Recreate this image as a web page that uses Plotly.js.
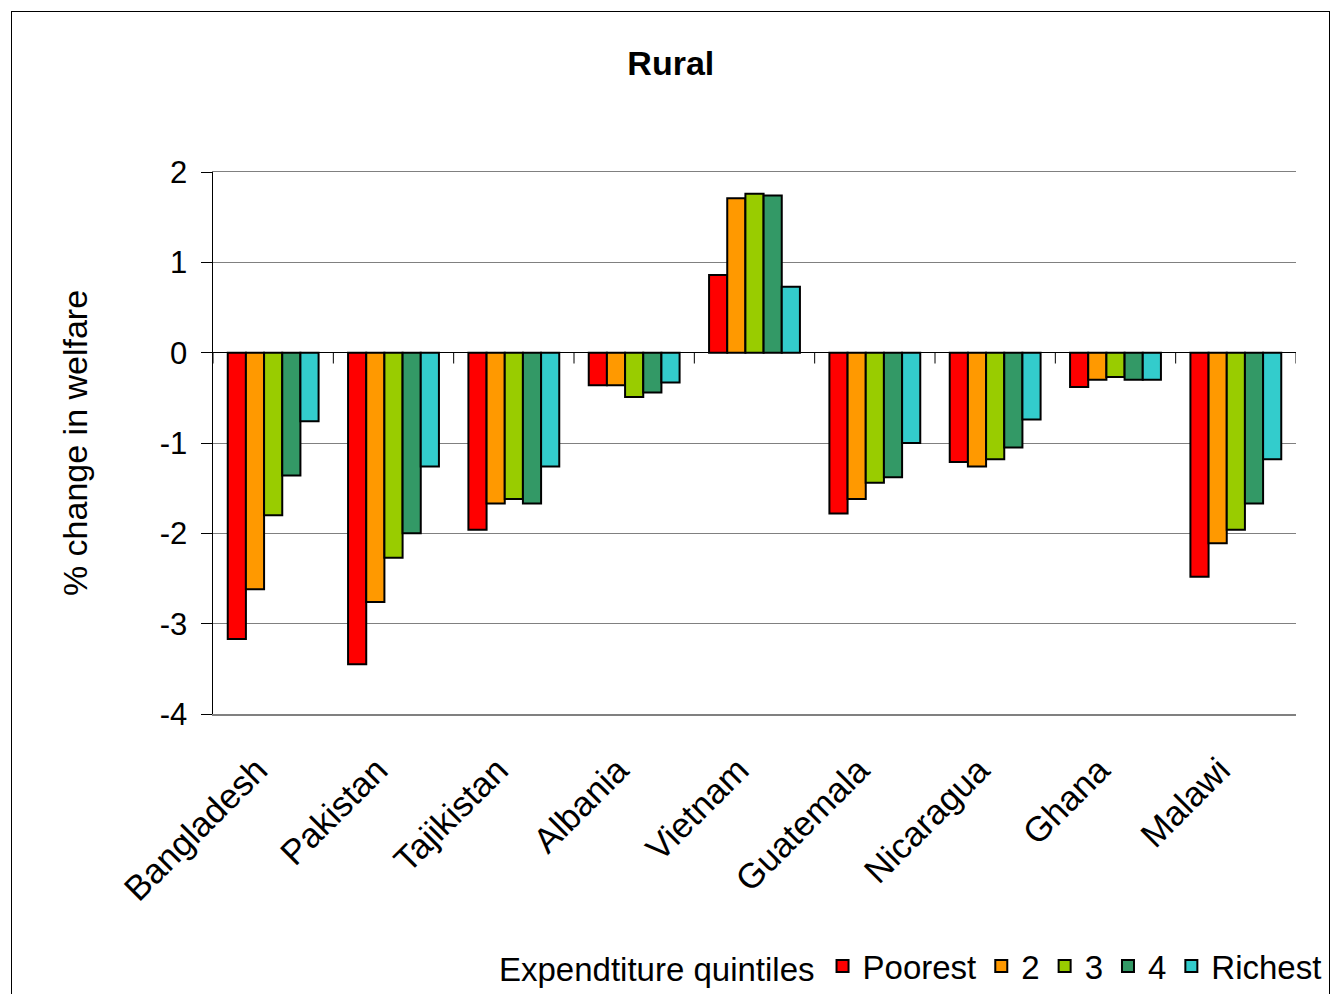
<!DOCTYPE html>
<html>
<head>
<meta charset="utf-8">
<script src="https://cdn.plot.ly/plotly-3.0.1.min.js"></script>
<style>
html,body{margin:0;padding:0;background:#fff;}
#frame{position:absolute;left:11px;top:11px;width:1319px;height:1000px;border:1px solid #000;box-sizing:border-box;pointer-events:none;}
#chart{position:absolute;left:0;top:0;width:1331px;height:994px;}
</style>
</head>
<body>
<div id="chart"></div>
<div id="frame"></div>
<script>
const countries = ["Bangladesh","Pakistan","Tajikistan","Albania","Vietnam","Guatemala","Nicaragua","Ghana","Malawi"];
const seriesNames = ["Poorest","2","3","4","Richest"];
const poorest = [-3.17,-3.45,-1.96,-0.36,0.86,-1.78,-1.21,-0.38,-2.48];
const q2      = [-2.62,-2.76,-1.67,-0.36,1.71,-1.62,-1.26,-0.30,-2.11];
const q3      = [-1.80,-2.27,-1.62,-0.49,1.76,-1.44,-1.18,-0.27,-1.96];
const q4      = [-1.36,-2.00,-1.67,-0.44,1.74,-1.38,-1.05,-0.30,-1.67];
const richest = [-0.76,-1.26,-1.26,-0.33,0.73,-1.00,-0.74,-0.30,-1.18];
const yTicks = [2,1,0,-1,-2,-3,-4];
const colors = ["#FF0000","#FF9900","#99CC00","#339966","#33CCCC"];
const values = [poorest,q2,q3,q4,richest];

const traces = values.map((v,i)=>({
  type:"bar", name:seriesNames[i], x:countries, y:v,
  marker:{color:colors[i], line:{color:"#000", width:2}}
}));

// small tick marks at category boundaries on the zero line
const shapes = [];
for (let i = 0; i <= countries.length; i++) {
  shapes.push({type:"line", xref:"x", yref:"y", x0:i-0.5, x1:i-0.5, y0:0, y1:-0.12,
    line:{color:"#000", width:1}});
}

const F = "Liberation Sans, Arial, sans-serif";
const layout = {
  width:1331, height:994,
  paper_bgcolor:"#fff", plot_bgcolor:"#fff",
  margin:{l:213, r:35, t:172, b:280},
  font:{family:F, color:"#000"},
  title:{text:"<b>Rural</b>", font:{size:34, family:F},
    xref:"container", x:0.504, xanchor:"center", yref:"container", y:0.937, yanchor:"middle"},
  barmode:"group", bargap:0.245, bargroupgap:0,
  xaxis:{type:"category", tickangle:-45, tickfont:{size:35}, showgrid:false, ticklabelstandoff:20, ticklabelshift:-16,
    showline:true, linecolor:"#808080", linewidth:1.5, mirror:true, ticks:"", zeroline:false,
    range:[-0.5, countries.length-0.5]},
  yaxis:{range:[-4,2], tickvals:yTicks, ticktext:yTicks.map(String), tickfont:{size:31},
    ticks:"outside", ticklen:11, tickcolor:"#000", ticklabelstandoff:7, showline:true, linecolor:"#000", linewidth:1.5,
    showgrid:true, gridcolor:"#808080", gridwidth:1, zeroline:true, zerolinecolor:"#000", zerolinewidth:1,
    title:{text:"% change in welfare", font:{size:34}, standoff:62}},
  legend:{orientation:"h", xref:"container", yref:"container", x:0.997, xanchor:"right", y:0.0, yanchor:"bottom",
    font:{size:33}, title:{text:"Expendtiture quintiles", side:"left", font:{size:33}},
    traceorder:"normal", itemwidth:30, bgcolor:"rgba(0,0,0,0)"},
  shapes:shapes
};

Plotly.newPlot("chart", traces, layout, {displayModeBar:false, staticPlot:true});
</script>
</body>
</html>
